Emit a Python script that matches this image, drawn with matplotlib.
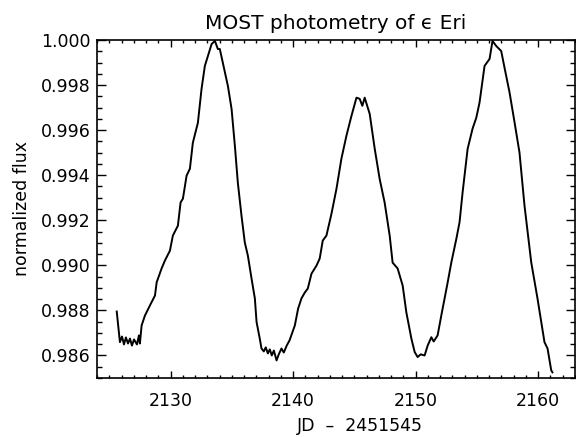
import matplotlib
matplotlib.use("Agg")
import matplotlib.pyplot as plt
from matplotlib.ticker import MultipleLocator, FormatStrFormatter

jd = [2125.61, 2125.87, 2126.04, 2126.20, 2126.36, 2126.53, 2126.69, 2126.85, 2127.02, 2127.26,
      2127.42, 2127.50, 2127.64, 2127.91, 2128.32, 2128.73, 2128.87, 2129.27, 2129.54, 2129.95,
      2130.19, 2130.60, 2130.82, 2131.01, 2131.31, 2131.58, 2131.82, 2132.23, 2132.53, 2132.80,
      2133.05, 2133.35, 2133.62, 2133.86, 2134.02, 2134.27, 2134.68, 2134.98, 2135.25, 2135.49,
      2135.79, 2136.06, 2136.31, 2136.61, 2136.88, 2137.02, 2137.28, 2137.42, 2137.61, 2137.77,
      2137.94, 2138.10, 2138.26, 2138.43, 2138.65, 2138.83, 2139.05, 2139.24, 2139.48, 2139.71,
      2140.14, 2140.41, 2140.68, 2140.95, 2141.20, 2141.50, 2141.91, 2142.17, 2142.42, 2142.72,
      2143.13, 2143.54, 2143.94, 2144.35, 2144.76, 2145.17, 2145.43, 2145.65, 2145.84, 2146.25,
      2146.66, 2147.06, 2147.47, 2147.88, 2148.12, 2148.53, 2148.94, 2149.24, 2149.65, 2149.92,
      2150.16, 2150.41, 2150.73, 2150.98, 2151.28, 2151.47, 2151.79, 2152.09, 2152.36, 2152.61,
      2152.91, 2153.32, 2153.58, 2153.83, 2154.24, 2154.64, 2154.95, 2155.21, 2155.62, 2156.03,
      2156.27, 2156.58, 2156.98, 2157.25, 2157.66, 2158.07, 2158.47, 2158.88, 2159.43, 2159.94,
      2160.51, 2160.76, 2161.06, 2161.16]

flux = [0.98795, 0.98659, 0.98684, 0.98649, 0.98680, 0.98653, 0.98675, 0.98644, 0.98671, 0.98649,
        0.98689, 0.98653, 0.98733, 0.98777, 0.98822, 0.98866, 0.98925, 0.98986, 0.99021, 0.99065,
        0.99132, 0.99176, 0.99279, 0.99296, 0.99398, 0.99429, 0.99544, 0.99632, 0.99783, 0.99885,
        0.99929, 0.99982, 0.99996, 0.99960, 0.99960, 0.99898, 0.99796, 0.99694, 0.99530, 0.99367,
        0.99220, 0.99101, 0.99043, 0.98941, 0.98853, 0.98748, 0.98675, 0.98631, 0.98618, 0.98636,
        0.98609, 0.98627, 0.98600, 0.98622, 0.98578, 0.98605, 0.98631, 0.98613, 0.98644, 0.98667,
        0.98733, 0.98808, 0.98853, 0.98879, 0.98897, 0.98963, 0.98999, 0.99030, 0.99110, 0.99132,
        0.99229, 0.99340, 0.99473, 0.99575, 0.99663, 0.99744, 0.99739, 0.99708, 0.99744, 0.99672,
        0.99517, 0.99384, 0.99278, 0.99132, 0.99012, 0.98986, 0.98910, 0.98791, 0.98675, 0.98615,
        0.98593, 0.98605, 0.98600, 0.98644, 0.98681, 0.98662, 0.98689, 0.98777, 0.98853, 0.98924,
        0.99013, 0.99118, 0.99191, 0.99324, 0.99517, 0.99606, 0.99656, 0.99722, 0.99885, 0.99916,
        0.99996, 0.99973, 0.99951, 0.99877, 0.99767, 0.99634, 0.99501, 0.99265, 0.99013, 0.98853,
        0.98659, 0.98631, 0.98534, 0.98525]

x_ticks = [2130, 2140, 2150, 2160]
y_ticks = [0.986, 0.988, 0.990, 0.992, 0.994, 0.996, 0.998, 1.000]

title = "MOST photometry of \u03f5 Eri"
xlabel = "JD  \u2013  2451545"
ylabel = "normalized flux"

plt.rcParams['font.family'] = ['DejaVu Sans']

fig = plt.figure(figsize=(5.76, 4.37), dpi=100)
ax = fig.add_axes([97/576, 1 - 378/437, (575 - 97)/576, (378 - 40)/437])

ax.plot(jd, flux, color='black', lw=1.4)

ax.set_xlim(2124, 2163)
ax.set_ylim(0.985, 1.000)
ax.set_xticks(x_ticks)
ax.set_yticks(y_ticks)
ax.yaxis.set_major_formatter(FormatStrFormatter('%.3f'))
ax.xaxis.set_minor_locator(MultipleLocator(1))
ax.yaxis.set_minor_locator(MultipleLocator(0.0005))

for s in ax.spines.values():
    s.set_linewidth(1.2)

ax.tick_params(axis='both', which='both', direction='in', top=True, right=True,
               width=1.0, labelsize=12.5)
ax.tick_params(axis='x', which='major', length=5, pad=10)
ax.tick_params(axis='x', which='minor', length=2.5)
ax.tick_params(axis='y', which='major', length=6.8, pad=4.5)
ax.tick_params(axis='y', which='minor', length=3.4)

ax.set_title(title, fontsize=14.5, pad=8)
ax.set_xlabel(xlabel, fontsize=12.5)
ax.xaxis.set_label_coords((360 - 97) / (575 - 97), -0.114)
ax.set_ylabel(ylabel, fontsize=12.5, labelpad=7)

fig.savefig("out.png", dpi=100)
